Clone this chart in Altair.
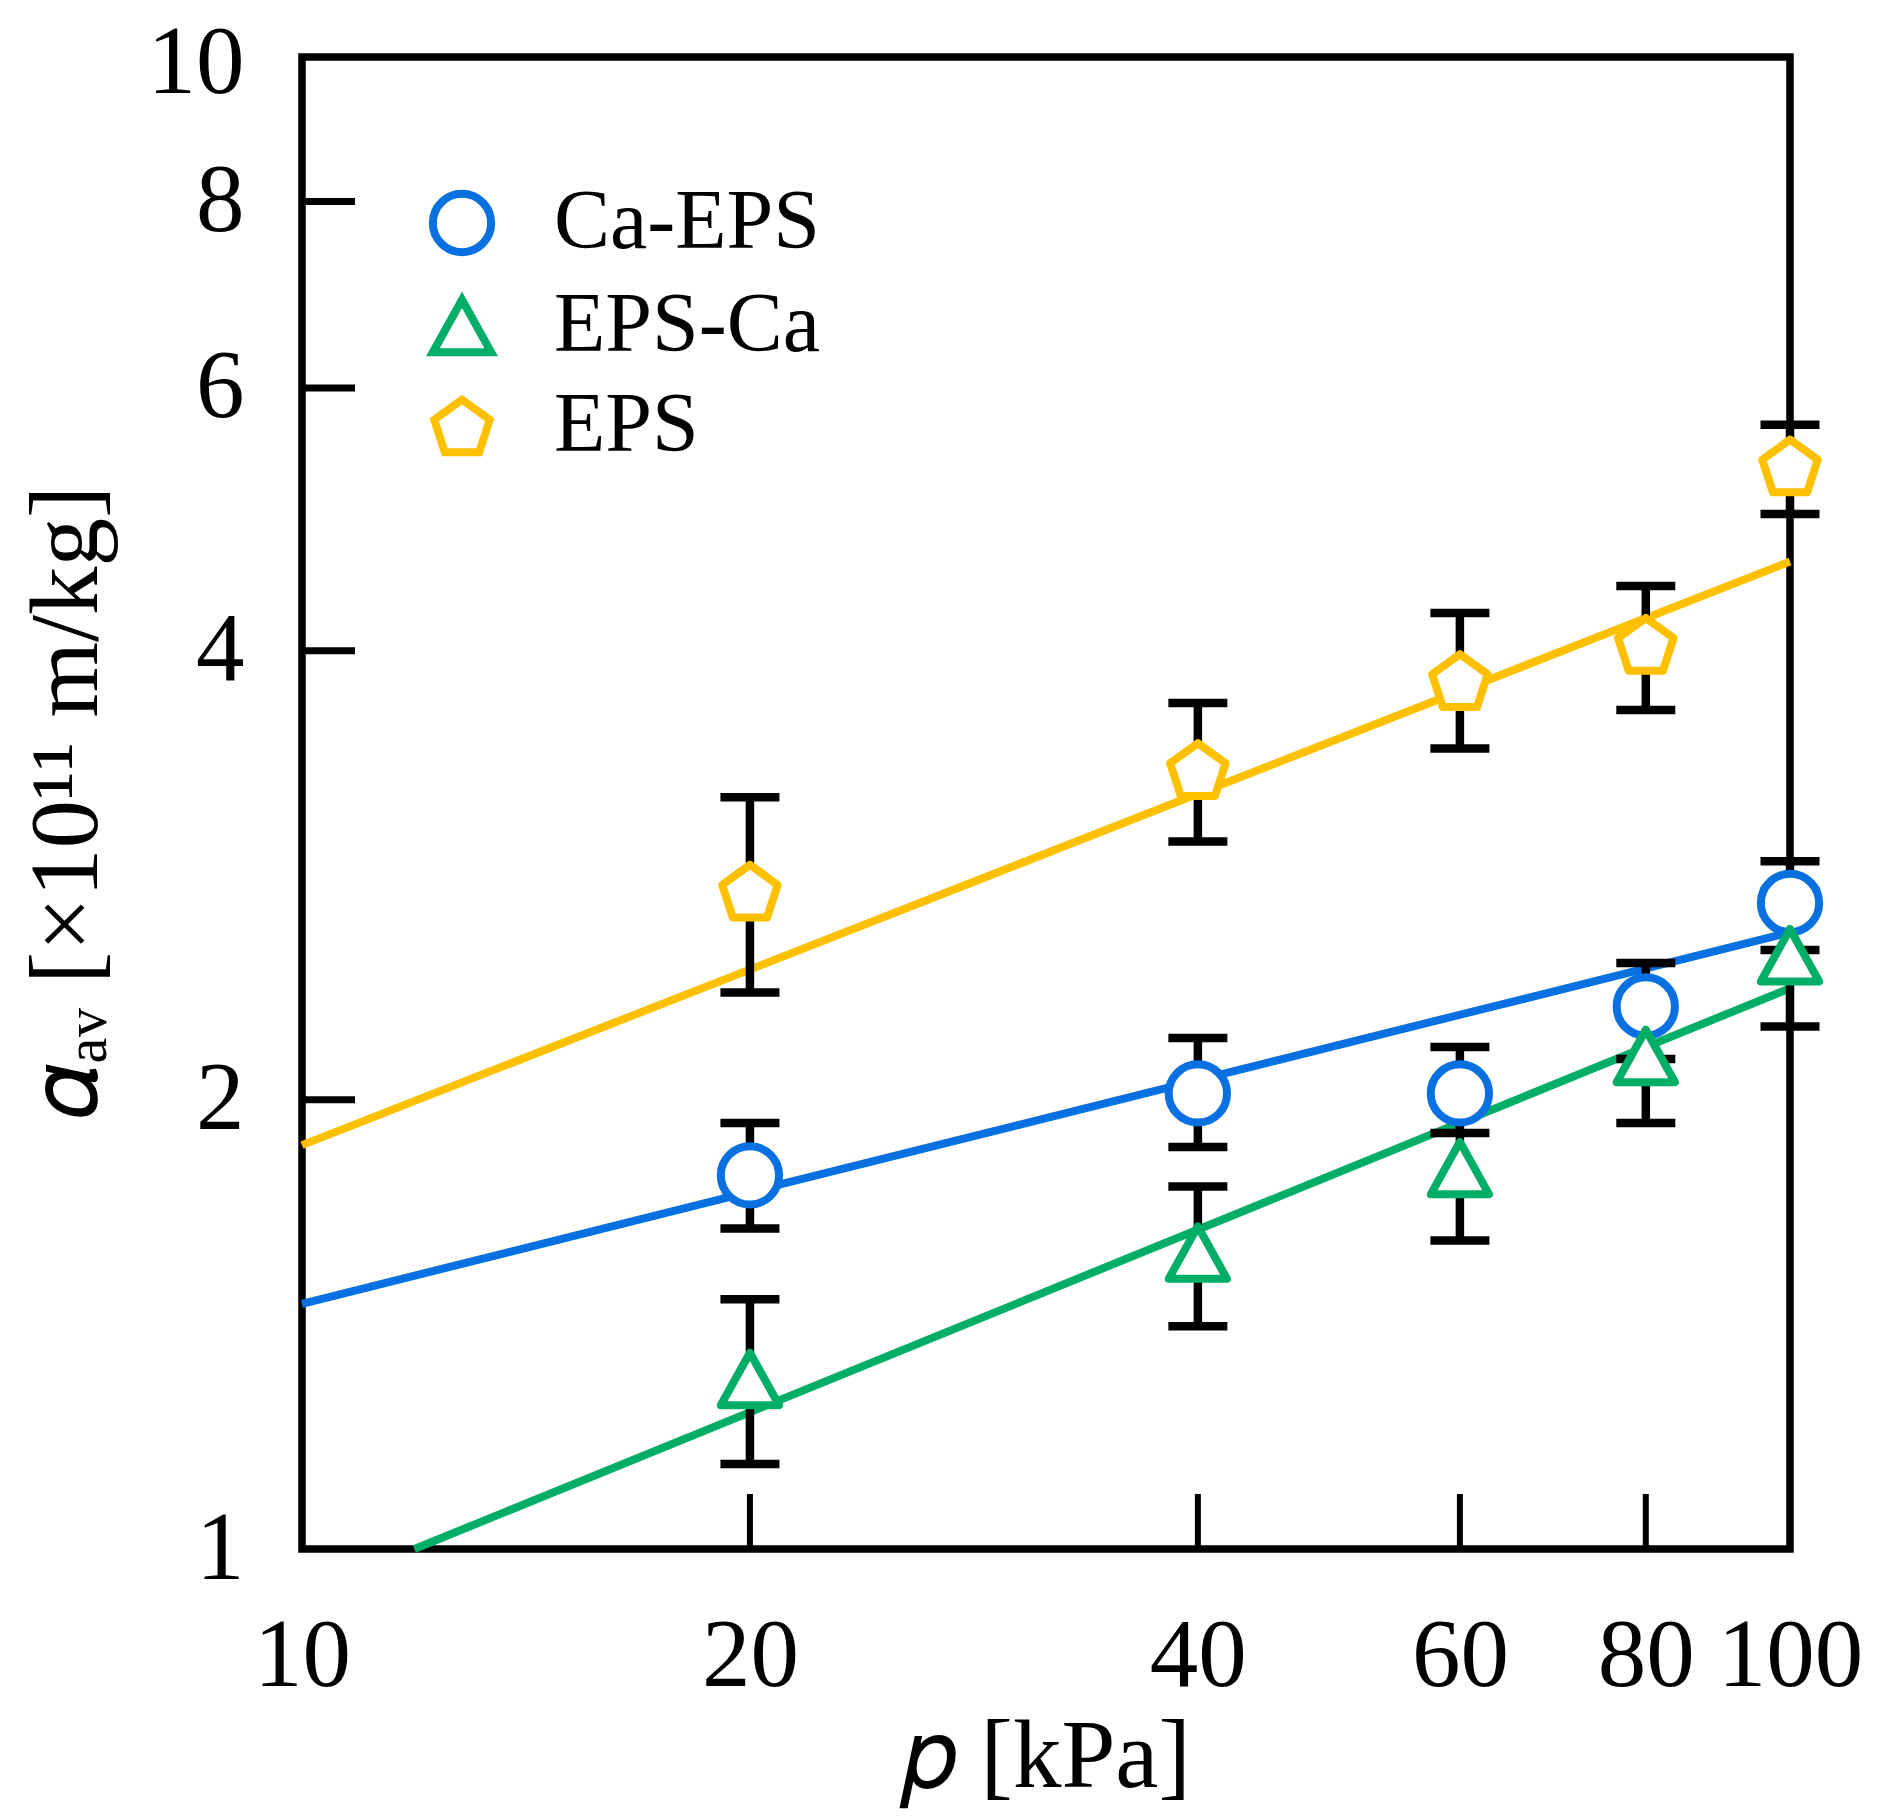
import altair as alt
import pandas as pd

# ---------------- data ----------------
p = [20, 40, 60, 80, 100]

ca_eps = [1.78, 2.02, 2.02, 2.31, 2.71]
ca_eps_hi = [1.93, 2.20, 2.17, 2.47, 2.89]
ca_eps_lo = [1.64, 1.86, 1.90, 2.13, 2.52]

eps_ca = [1.30, 1.58, 1.80, 2.14, 2.50]
eps_ca_hi = [1.47, 1.75, 1.99, 2.35, 2.76]
eps_ca_lo = [1.14, 1.41, 1.61, 1.93, 2.24]

eps = [2.76, 3.33, 3.82, 4.04, 5.32]
eps_hi = [3.19, 3.69, 4.24, 4.42, 5.67]
eps_lo = [2.36, 2.98, 3.44, 3.65, 4.94]

# fitted power-law lines (end points)
fit_p_ca_eps = [10, 100]
fit_ca_eps = [1.46, 2.59]
fit_p_eps_ca = [11.9, 100]
fit_eps_ca = [1.0, 2.376]
fit_p_eps = [10, 100]
fit_eps = [1.865, 4.59]

series_names = ["Ca-EPS", "EPS-Ca", "EPS"]
series_colors = ["#0870E0", "#00AE66", "#FFC000"]

x_ticks = [10, 20, 40, 60, 80, 100]
y_ticks = [1, 2, 4, 6, 8, 10]
x_inner_ticks = [20, 40, 60, 80]
y_inner_ticks = [2, 4, 6, 8]

# ---------------- tables ----------------
rows = []
for name, v, hi, lo in [("EPS", eps, eps_hi, eps_lo),
                        ("Ca-EPS", ca_eps, ca_eps_hi, ca_eps_lo),
                        ("EPS-Ca", eps_ca, eps_ca_hi, eps_ca_lo)]:
    for pi, vi, h, l in zip(p, v, hi, lo):
        rows.append({"series": name, "p": pi, "alpha": vi, "hi": h, "lo": l})
pts = pd.DataFrame(rows)

fit_rows = []
for name, fp, fv in [("EPS", fit_p_eps, fit_eps),
                     ("Ca-EPS", fit_p_ca_eps, fit_ca_eps),
                     ("EPS-Ca", fit_p_eps_ca, fit_eps_ca)]:
    for a, b in zip(fp, fv):
        fit_rows.append({"series": name, "p": a, "alpha": b})
fits = pd.DataFrame(fit_rows)

W, H = 1488, 1492
FONT = "Liberation Serif"

xscale = alt.Scale(type="log", domain=[10, 100], nice=False, zero=False)
yscale = alt.Scale(type="log", domain=[1, 10], nice=False, zero=False)

xaxis = alt.Axis(values=x_ticks, format="d", ticks=False, tickSize=0, domain=False, grid=False,
                 labelFont=FONT, labelFontSize=97, labelColor="black", labelPadding=59,
                 labelFlush=False, labelOverlap=False,
                 title="𝑝 [kPa]", titleFont=FONT, titleFontSize=97, titleFontWeight="normal",
                 titleColor="black", titleBaseline="alphabetic", titleY=237, zindex=0)
yaxis = alt.Axis(values=y_ticks, format="d", ticks=False, tickSize=0, domain=False, grid=False,
                 labelFont=FONT, labelFontSize=97, labelColor="black", labelPadding=58,
                 labelFlush=False, labelOverlap=False, labelBaseline="middle",
                 labelOffset={"condition": {"test": "datum.value == 10", "value": 6}, "value": 0},
                 title="𝛼ₐᵥ [×10¹¹ m/kg]", titleFont=FONT, titleFontSize=97,
                 titleFontWeight="normal", titleColor="black", titleAngle=270,
                 titleBaseline="alphabetic", titleX=-206, titleY=745, titleAlign="center",
                 zindex=0)

base = alt.Chart(pts)

fit_layers = []
for name, col in zip(series_names, series_colors):
    fit_layers.append(
        alt.Chart(fits[fits.series == name]).mark_line(strokeWidth=8, color=col).encode(
            x=alt.X("p:Q", scale=xscale, axis=xaxis),
            y=alt.Y("alpha:Q", scale=yscale, axis=yaxis),
        )
    )

err_rule = base.mark_rule(color="black", strokeWidth=8.5, opacity=1).encode(
    x=alt.X("p:Q", scale=xscale), y=alt.Y("lo:Q", scale=yscale), y2="hi:Q")
cap_hi = base.mark_tick(color="black", orient="horizontal", size=59, thickness=8.5, opacity=1).encode(
    x=alt.X("p:Q", scale=xscale), y=alt.Y("hi:Q", scale=yscale))
cap_lo = base.mark_tick(color="black", orient="horizontal", size=59, thickness=8.5, opacity=1).encode(
    x=alt.X("p:Q", scale=xscale), y=alt.Y("lo:Q", scale=yscale))

tri = "M0,-0.9L1,0.9L-1,0.9Z"
pent = "M0,-0.9045L0.951,-0.2135L0.588,0.9045L-0.588,0.9045L-0.951,-0.2135Z"

legend = alt.Legend(title=None, orient="none", legendX=118, legendY=124,
                    labelFont=FONT, labelFontSize=84, labelColor="black", labelOffset=50,
                    symbolSize=3400, symbolStrokeWidth=8, symbolFillColor="white",
                    rowPadding=14, padding=0, labelLimit=600)

points = base.mark_point(strokeWidth=8, size=3400, opacity=1, strokeJoin="round").encode(
    x=alt.X("p:Q", scale=xscale),
    y=alt.Y("alpha:Q", scale=yscale),
    fill=alt.value("white"),
    stroke=alt.Stroke("series:N", scale=alt.Scale(domain=series_names, range=series_colors),
                      legend=legend),
    shape=alt.Shape("series:N", scale=alt.Scale(domain=series_names, range=["circle", tri, pent]),
                    legend=legend),
)

tick_y = alt.Chart(pd.DataFrame({"v": y_inner_ticks})).mark_rule(color="black", strokeWidth=7).encode(
    y=alt.Y("v:Q", scale=yscale), x=alt.value(0), x2=alt.value(53))
tick_x = alt.Chart(pd.DataFrame({"v": x_inner_ticks})).mark_rule(color="black", strokeWidth=6).encode(
    x=alt.X("v:Q", scale=xscale), y=alt.value(H), y2=alt.value(H - 55))

chart = alt.layer(*fit_layers, tick_y, tick_x, err_rule, cap_hi, cap_lo, points).properties(
    width=W, height=H,
    background="white",
    autosize=alt.AutoSizeParams(type="none"),
    padding={"left": 294, "top": 49, "right": 90, "bottom": 260},
).configure_view(stroke="black", strokeWidth=7.5, fill="white")

chart.save("out.html", embed_options={"renderer": "svg", "actions": False})
